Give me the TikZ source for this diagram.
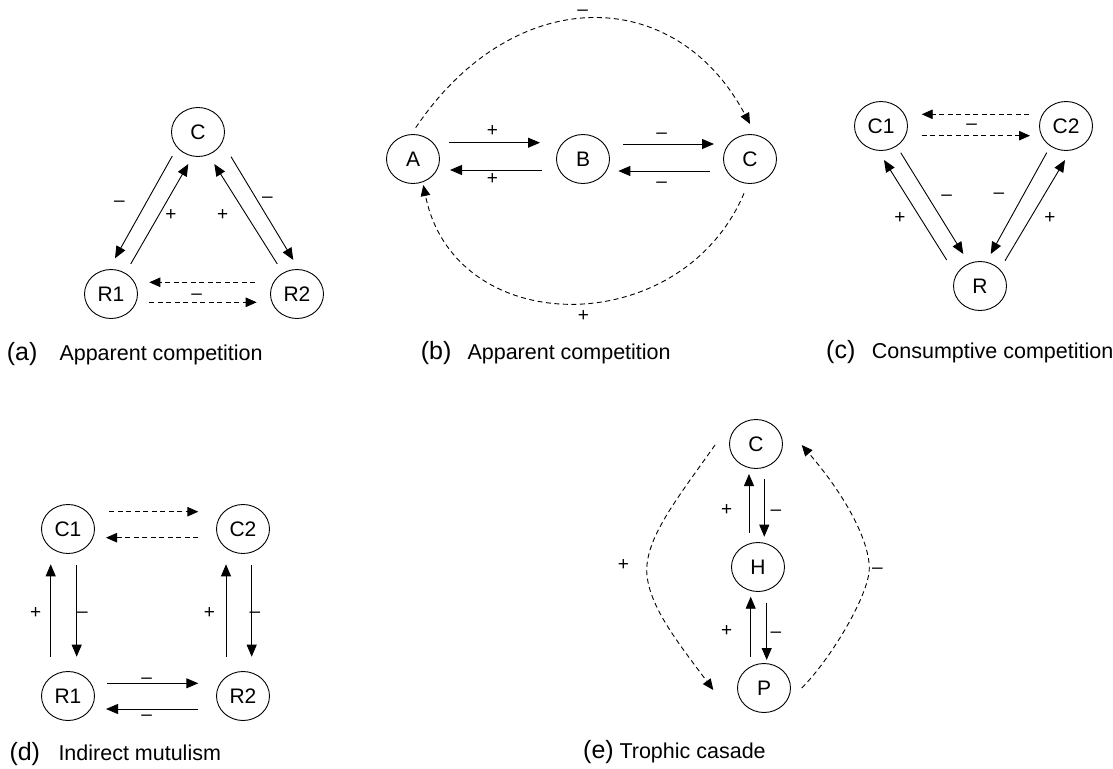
\documentclass[tikz,border=0pt]{standalone}
\usepackage{fontspec}
\setmainfont{Liberation Sans}
\usetikzlibrary{shapes.geometric,arrows.meta,calc}
\tikzset{
  species/.style={ellipse,draw,line width=0.9pt,minimum width=53pt,minimum height=49pt,inner sep=0pt,font=\fontsize{21}{24}\selectfont},
  arr/.style={line width=0.9pt,-{Triangle[length=12pt,width=10pt]}},
  darr/.style={line width=0.9pt,dash pattern=on 5pt off 3.5pt,-{Triangle[length=11pt,width=9.5pt]}},
  sign/.style={inner sep=0pt,font=\fontsize{19}{22}\selectfont},
  plab/.style={anchor=base west,inner sep=0pt,font=\fontsize{25}{28}\selectfont},
  ptext/.style={anchor=base west,inner sep=0pt,font=\fontsize{21.5}{25}\selectfont}
}
\begin{document}
\begin{tikzpicture}[x=1pt,y=-1pt]
\useasboundingbox[fill=white] (0,0) rectangle (1113,768);

% ---------- (a) ----------
\node[species] (aC) at (198,132) {C};
\node[species] (aR1) at (111,294) {R1};
\node[species] (aR2) at (297,294) {R2};
\draw[arr] ($(aC)+(-25.7,24)$) -- ($(aR1)+(4,-35.7)$);
\draw[arr] ($(aR1)+(19.7,-30)$) -- ($(aC)+(-9.7,32)$);
\draw[arr] ($(aR2)+(-19.7,-30)$) -- ($(aC)+(16.3,32)$);
\draw[arr] ($(aC)+(33,24.7)$) -- ($(aR2)+(-3.7,-34)$);
\draw[darr] ($(aR2)+(-42,-11.7)$) -- ($(aR1)+(38.3,-11.7)$);
\draw[darr] ($(aR1)+(38.3,8.3)$) -- ($(aR2)+(-40.3,8.3)$);
\node[sign] (aS1) at (119.3,204) {–};
\node[sign] (aS2) at (171,215) {+};
\node[sign] (aS3) at (222.7,215) {+};
\node[sign] (aS4) at (267.3,199.6) {–};
\node[sign] (aS5) at (196.7,296.6) {–};
\node[plab] (aL) at (6.7,360) {(a)};
\node[ptext] (aT) at (59.3,360) {Apparent competition};

% ---------- (b) ----------
\node[species] (bA) at (413,159) {A};
\node[species] (bB) at (583,159) {B};
\node[species] (bC) at (750,159) {C};
\draw[arr] ($(bA)+(36,-16.3)$) -- ($(bB)+(-43,-16.3)$);
\draw[arr] ($(bB)+(-41.3,11)$) -- ($(bA)+(37,11)$);
\draw[arr] ($(bB)+(40.3,-15)$) -- ($(bC)+(-36,-15)$);
\draw[arr] ($(bC)+(-40,12)$) -- ($(bB)+(35.3,12)$);
\draw[darr] ($(bA)+(2.7,-31.3)$) .. controls (513,-17) and (675,-17) .. ($(bC)+(0,-35)$);
\draw[darr] ($(bC)+(-6,34.3)$) .. controls (681.4,341) and (455,341) .. ($(bA)+(10.3,26)$);
\node[sign] (bS1) at (492.3,130.7) {+};
\node[sign] (bS2) at (492.3,179) {+};
\node[sign] (bS3) at (661.7,135.6) {–};
\node[sign] (bS4) at (661.7,185) {–};
\node[sign] (bS5) at (582.7,12.5) {–};
\node[sign] (bS6) at (583.3,316) {+};
\node[plab] (bL) at (420.7,359.3) {(b)};
\node[ptext] (bT) at (467.3,359.3) {Apparent competition};

% ---------- (c) ----------
\node[species] (cC1) at (881,126) {C1};
\node[species] (cC2) at (1066,126) {C2};
\node[species] (cR) at (980,286) {R};
\draw[darr] ($(cC2)+(-36.7,-11.7)$) -- ($(cC1)+(40.7,-11.7)$);
\draw[darr] ($(cC1)+(40.7,9.7)$) -- ($(cC2)+(-36,9.7)$);
\draw[arr] ($(cR)+(-33.3,-26)$) -- ($(cC1)+(3,34)$);
\draw[arr] ($(cC1)+(19.7,26.7)$) -- ($(cR)+(-16.7,-32)$);
\draw[arr] ($(cC2)+(-19.3,26.7)$) -- ($(cR)+(10.7,-32)$);
\draw[arr] ($(cR)+(25,-25.3)$) -- ($(cC2)+(-1,34)$);
\node[sign] (cS1) at (971.7,126.3) {–};
\node[sign] (cS2) at (900,218.3) {+};
\node[sign] (cS3) at (946.7,198) {–};
\node[sign] (cS4) at (999,195.6) {–};
\node[sign] (cS5) at (1050,218.3) {+};
\node[plab] (cL) at (826,358.3) {(c)};
\node[ptext] (cT) at (871.7,358.3) {Consumptive competition};

% ---------- (d) ----------
\node[species] (dC1) at (68,529) {C1};
\node[species] (dC2) at (243,529) {C2};
\node[species] (dR1) at (68,696) {R1};
\node[species] (dR2) at (243,696) {R2};
\draw[darr] ($(dC1)+(41.3,-17.3)$) -- ($(dC2)+(-44.7,-17.3)$);
\draw[darr] ($(dC2)+(-44.7,8.7)$) -- ($(dC1)+(38,8.7)$);
\draw[arr] ($(dR1)+(-17.3,-39.3)$) -- ($(dC1)+(-17.3,35.3)$);
\draw[arr] ($(dC1)+(8.7,36)$) -- ($(dR1)+(8.7,-39.3)$);
\draw[arr] ($(dR2)+(-17,-39.3)$) -- ($(dC2)+(-17,35.3)$);
\draw[arr] ($(dC2)+(8.7,36)$) -- ($(dR2)+(8.7,-39.3)$);
\draw[arr] ($(dR1)+(38.7,-12.7)$) -- ($(dR2)+(-44.7,-12.7)$);
\draw[arr] ($(dR2)+(-44.7,13)$) -- ($(dR1)+(38,13)$);
\node[sign] (dS1) at (35.7,613.3) {+};
\node[sign] (dS2) at (82.5,614.6) {–};
\node[sign] (dS3) at (209.3,613.3) {+};
\node[sign] (dS4) at (255,614.6) {–};
\node[sign] (dS5) at (146.7,680.6) {–};
\node[sign] (dS6) at (146.7,717.3) {–};
\node[plab] (dL) at (9.3,760) {(d)};
\node[ptext] (dT) at (58.3,760) {Indirect mutulism};

% ---------- (e) ----------
\node[species] (eC) at (756,444) {C};
\node[species] (eH) at (758,567) {H};
\node[species] (eP) at (764,688) {P};
\draw[arr] ($(eH)+(-9,-34.3)$) -- ($(eC)+(-7,30)$);
\draw[arr] ($(eC)+(8.3,35)$) -- ($(eH)+(6.3,-30.3)$);
\draw[arr] ($(eP)+(-13.3,-31.3)$) -- ($(eH)+(-7.3,29.7)$);
\draw[arr] ($(eH)+(8.7,35.7)$) -- ($(eP)+(2.7,-28)$);
\draw[darr] ($(eC)+(-41,1)$) .. controls (680,495) and (647,535) .. (646.7,570)
   .. controls (647,605) and (680,645) .. ($(eP)+(-50.7,2)$);
\draw[darr] ($(eP)+(37.7,0)$) .. controls (830,660) and (869.3,595) .. (869.3,568)
   .. controls (869,540) and (845,495) .. ($(eC)+(45.7,1)$);
\node[sign] (eS1) at (726.7,510) {+};
\node[sign] (eS2) at (776,512.3) {–};
\node[sign] (eS3) at (726.7,630.7) {+};
\node[sign] (eS4) at (776,635) {–};
\node[sign] (eS5) at (623.3,565) {+};
\node[sign] (eS6) at (877.5,570.6) {–};
\node[plab] (eL) at (583,758.3) {(e)};
\node[ptext] (eT) at (619.3,758.3) {Trophic casade};
\end{tikzpicture}
\end{document}
